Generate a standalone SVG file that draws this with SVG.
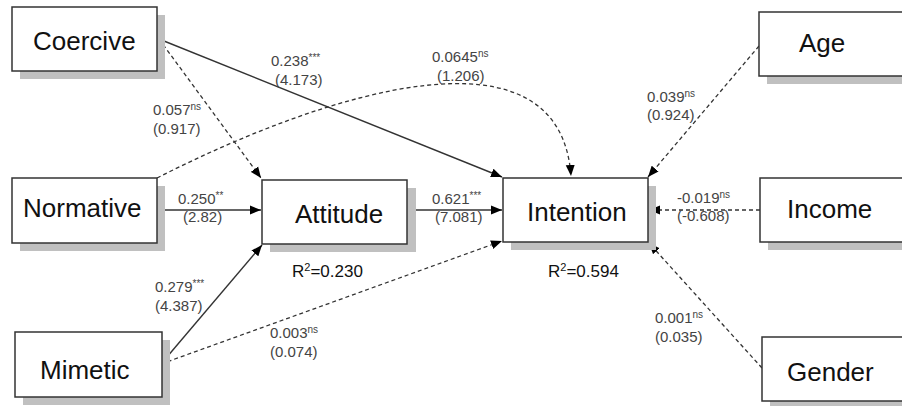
<svg xmlns="http://www.w3.org/2000/svg" width="902" height="406" viewBox="0 0 902 406">
<defs>
<style>
.box{fill:#fff;stroke:#333;stroke-width:1.5}
.sh{fill:#c0c0c0}
.name{font-family:"Liberation Sans",Arial,sans-serif;font-size:26px;fill:#111}
.lbl{font-family:"Liberation Sans",Arial,sans-serif;font-size:15px;fill:#444}
.sup{font-size:10px}
.r2{font-family:"Liberation Sans",Arial,sans-serif;font-size:17px;fill:#111}
.solid{fill:none;stroke:#333;stroke-width:1.4}
.dash{fill:none;stroke:#333;stroke-width:1.3;stroke-dasharray:4 3}
</style>
<marker id="ah" markerUnits="userSpaceOnUse" markerWidth="12" markerHeight="10" refX="11" refY="5" orient="auto">
<path d="M0,0.5 L11,5 L0,9.5 Z" fill="#000"/>
</marker>
</defs>

<g id="connectors">
<line class="solid" x1="159" y1="39" x2="502" y2="177" marker-end="url(#ah)"/>
<line class="dash" x1="159" y1="39" x2="261" y2="178" marker-end="url(#ah)"/>
<path class="dash" d="M157,178 C330,90 560,20 571,176" marker-end="url(#ah)"/>
<line class="solid" x1="158" y1="210" x2="261" y2="210" marker-end="url(#ah)"/>
<line class="solid" x1="161" y1="364" x2="262" y2="245" marker-end="url(#ah)"/>
<line class="dash" x1="161" y1="364" x2="502" y2="241" marker-end="url(#ah)"/>
<line class="solid" x1="407" y1="210" x2="502" y2="210" marker-end="url(#ah)"/>
<line class="dash" x1="759" y1="46" x2="648" y2="177" marker-end="url(#ah)"/>
<line class="dash" x1="760" y1="210" x2="649" y2="210" marker-end="url(#ah)"/>
<line class="dash" x1="762" y1="368" x2="649" y2="243" marker-end="url(#ah)"/>
</g>

<g id="node-coercive">
<rect class="sh" x="20" y="15" width="145" height="64"/>
<rect class="box" x="12" y="7" width="145" height="64"/>
<text class="name" x="33" y="50">Coercive</text>
</g>
<g id="node-normative">
<rect class="sh" x="20" y="186" width="145" height="65"/>
<rect class="box" x="12" y="178" width="145" height="65"/>
<text class="name" x="23" y="217">Normative</text>
</g>
<g id="node-mimetic">
<rect class="sh" x="23" y="340" width="147" height="65"/>
<rect class="box" x="15" y="332" width="147" height="65"/>
<text class="name" x="40" y="379">Mimetic</text>
</g>
<g id="node-attitude">
<rect class="sh" x="270" y="188" width="146" height="64"/>
<rect class="box" x="262" y="180" width="145" height="64"/>
<text class="name" x="295" y="223">Attitude</text>
</g>
<g id="node-intention">
<rect class="sh" x="511" y="186" width="145" height="64"/>
<rect class="box" x="503" y="178" width="145" height="64"/>
<text class="name" x="527" y="221">Intention</text>
</g>
<g id="node-age">
<rect class="sh" x="767" y="20" width="150" height="64"/>
<rect class="box" x="759" y="12" width="150" height="64"/>
<text class="name" x="799" y="52">Age</text>
</g>
<g id="node-income">
<rect class="sh" x="768" y="186" width="150" height="64"/>
<rect class="box" x="760" y="178" width="150" height="64"/>
<text class="name" x="787" y="218">Income</text>
</g>
<g id="node-gender">
<rect class="sh" x="770" y="345" width="150" height="64"/>
<rect class="box" x="762" y="337" width="150" height="64"/>
<text class="name" x="787" y="381">Gender</text>
</g>

<g id="labels">
<text class="lbl" x="271" y="66">0.238<tspan class="sup" dy="-5">***</tspan></text>
<text class="lbl" x="275" y="85">(4.173)</text>
<text class="lbl" x="432" y="62">0.0645<tspan class="sup" dy="-5">ns</tspan></text>
<text class="lbl" x="437" y="81">(1.206)</text>
<text class="lbl" x="153" y="115">0.057<tspan class="sup" dy="-5">ns</tspan></text>
<text class="lbl" x="153" y="134">(0.917)</text>
<text class="lbl" x="178" y="204">0.250<tspan class="sup" dy="-5">**</tspan></text>
<text class="lbl" x="183" y="222">(2.82)</text>
<text class="lbl" x="432" y="204">0.621<tspan class="sup" dy="-5">***</tspan></text>
<text class="lbl" x="435" y="222">(7.081)</text>
<text class="lbl" x="677" y="203">-0.019<tspan class="sup" dy="-5">ns</tspan></text>
<text class="lbl" x="677" y="221">(-0.608)</text>
<text class="lbl" x="647" y="102">0.039<tspan class="sup" dy="-5">ns</tspan></text>
<text class="lbl" x="647" y="120">(0.924)</text>
<text class="lbl" x="155" y="292">0.279<tspan class="sup" dy="-5">***</tspan></text>
<text class="lbl" x="155" y="311">(4.387)</text>
<text class="lbl" x="270" y="338">0.003<tspan class="sup" dy="-5">ns</tspan></text>
<text class="lbl" x="270" y="357">(0.074)</text>
<text class="lbl" x="655" y="323">0.001<tspan class="sup" dy="-5">ns</tspan></text>
<text class="lbl" x="655" y="342">(0.035)</text>
<text class="r2" x="292" y="277">R<tspan font-size="11" dy="-6">2</tspan><tspan dy="6">=0.230</tspan></text>
<text class="r2" x="548" y="277">R<tspan font-size="11" dy="-6">2</tspan><tspan dy="6">=0.594</tspan></text>
</g>
</svg>
